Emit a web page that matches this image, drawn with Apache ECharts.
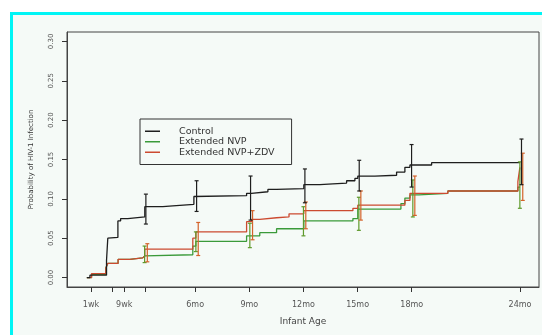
<!DOCTYPE html>
<html>
<head>
<meta charset="utf-8">
<title>Probability of HIV-1 Infection</title>
<script src="https://cdn.jsdelivr.net/npm/echarts@6/dist/echarts.min.js"></script>
<style>
  html, body { margin: 0; padding: 0; background: #ffffff; overflow: hidden; }
  #frame { position: absolute; left: 10px; top: 12px; width: 560px; height: 360px;
           border-left: 3px solid #00f5f5; border-top: 3px solid #00f5f5; background: #f5faf7; }
  #main { position: absolute; left: 0; top: 0; width: 542px; height: 335px; }
</style>
</head>
<body>
<div id="frame"></div>
<div id="main"></div>
<script>
// x in months
var tickMonths = [0.23, 1.38, 2.07, 3.22, 6, 9, 12, 15, 18, 24];
var tickLabels = ['1wk', '', '9wk', '', '6mo', '9mo', '12mo', '15mo', '18mo', '24mo'];
var yTicks = [0, 0.05, 0.10, 0.15, 0.20, 0.25, 0.30];

// step curves [month, probability]
var control = [[0, 0], [0.17, 0.003], [1.09, 0.022], [1.16, 0.050], [1.27, 0.051], [1.72, 0.072],
  [1.87, 0.075], [2.27, 0.077], [3.21, 0.090], [4.21, 0.091], [4.76, 0.093], [5.93, 0.103],
  [6.04, 0.104], [8.85, 0.107], [9.12, 0.109], [10.03, 0.112], [10.51, 0.113], [12.02, 0.118],
  [12.91, 0.119], [13.63, 0.120], [14.39, 0.123], [14.85, 0.126], [15.01, 0.129], [15.96, 0.130],
  [17.16, 0.134], [17.62, 0.140], [17.9, 0.143], [19.1, 0.146], [24.0, 0.146]];
var nvp = [[0, 0], [0.26, 0.004], [1.05, 0.012], [1.16, 0.018], [1.73, 0.023], [2.38, 0.025],
  [3.09, 0.0275], [3.21, 0.029], [5.87, 0.040], [6.04, 0.046], [8.85, 0.053], [9.58, 0.057],
  [10.51, 0.062], [12.02, 0.072], [14.74, 0.075], [15.01, 0.087], [17.4, 0.094], [17.62, 0.101],
  [17.9, 0.105], [18.4, 0.107], [20.0, 0.110], [23.88, 0.115], [24.0, 0.115]];
var zdv = [[0, 0], [0.26, 0.005], [1.05, 0.012], [1.16, 0.018], [1.73, 0.023], [2.38, 0.025],
  [3.09, 0.0275], [3.21, 0.036], [5.87, 0.050], [6.04, 0.058], [8.85, 0.071], [9.12, 0.074],
  [9.58, 0.076], [10.51, 0.077], [11.2, 0.081], [12.02, 0.085], [14.74, 0.088], [15.01, 0.092],
  [17.62, 0.098], [17.9, 0.107], [20.0, 0.110], [23.88, 0.122], [23.99, 0.140], [24.0, 0.140]];

// confidence bars [month, low, high]
var controlCI = [[3.27, 0.068, 0.106], [6.08, 0.084, 0.123], [9.07, 0.073, 0.129], [12.08, 0.095, 0.138],
  [15.09, 0.110, 0.149], [17.99, 0.115, 0.169], [24.08, 0.118, 0.176]];
var nvpCI = [[3.2, 0.019, 0.040], [6.04, 0.033, 0.058], [9.03, 0.038, 0.069], [12.0, 0.053, 0.090],
  [15.07, 0.060, 0.102], [18.06, 0.077, 0.124], [23.99, 0.088, 0.147]];
var zdvCI = [[3.35, 0.020, 0.043], [6.17, 0.028, 0.070], [9.18, 0.048, 0.085], [12.13, 0.062, 0.096],
  [15.18, 0.073, 0.110], [18.17, 0.079, 0.129], [24.15, 0.098, 0.158]];

var cBlack = '#1e1e1e', cGreen = '#3a9a3a', cRed = '#cc4a30';
var font = 'DejaVu Sans';

function stepSeries(name, data, color, z) {
  return { name: name, type: 'line', step: 'end', data: data, symbol: 'none', z: z,
    lineStyle: { color: color, width: 1.3 }, itemStyle: { color: color }, animation: false };
}
function ciSeries(name, data, color, z) {
  return {
    name: name, type: 'custom', data: data, z: z, animation: false,
    encode: { x: 0, y: [1, 2] },
    renderItem: function (params, api) {
      var x = api.value(0);
      var lo = api.coord([x, api.value(1)]);
      var hi = api.coord([x, api.value(2)]);
      var st = { stroke: color, lineWidth: 1.2 };
      return { type: 'group', children: [
        { type: 'line', shape: { x1: lo[0], y1: lo[1], x2: hi[0], y2: hi[1] }, style: st },
        { type: 'line', shape: { x1: lo[0] - 2, y1: lo[1], x2: lo[0] + 2, y2: lo[1] }, style: st },
        { type: 'line', shape: { x1: hi[0] - 2, y1: hi[1], x2: hi[0] + 2, y2: hi[1] }, style: st }
      ] };
    }
  };
}

var chart = echarts.init(document.getElementById('main'), null, { renderer: 'canvas' });
chart.setOption({
  backgroundColor: 'transparent',
  animation: false,
  grid: { left: 67, top: 32, right: 3, bottom: 48, show: true, borderColor: '#444', borderWidth: 1 },
  legend: {
    data: ['Control', 'Extended NVP', 'Extended NVP+ZDV'],
    orient: 'vertical', left: 140, top: 119,
    padding: [7, 17, 7, 5], itemGap: 0,
    borderColor: '#333', borderWidth: 1, backgroundColor: '#f5faf7',
    icon: 'rect', itemWidth: 15, itemHeight: 1.5,
    formatter: function (n) { return '{a|' + n + '}'; },
    textStyle: { fontFamily: font, fontSize: 9.5, color: '#333', lineHeight: 10.5,
      rich: { a: { fontFamily: font, fontSize: 9.5, color: '#333', lineHeight: 10.5, padding: [0, 0, 0, 14] } } }
  },
  xAxis: {
    type: 'value', min: -1.1, max: 25.05,
    name: 'Infant Age', nameLocation: 'middle', nameGap: 30,
    nameTextStyle: { fontFamily: font, fontSize: 9, color: '#444' },
    axisLine: { show: true, onZero: false, lineStyle: { color: '#444' } },
    axisTick: { show: true, length: 5, lineStyle: { color: '#333' }, customValues: tickMonths },
    axisLabel: {
      fontFamily: font, fontSize: 8, color: '#555', margin: 14,
      customValues: tickMonths.filter(function (v, i) { return tickLabels[i] !== ''; }),
      formatter: function (v) {
        for (var i = 0; i < tickMonths.length; i++) {
          if (Math.abs(tickMonths[i] - v) < 1e-6) return tickLabels[i];
        }
        return '';
      }
    },
    splitLine: { show: false }
  },
  yAxis: {
    type: 'value', min: -0.012, max: 0.312,
    name: 'Probability of HIV-1 Infection', nameLocation: 'middle', nameGap: 32, nameRotate: 90,
    nameTextStyle: { fontFamily: font, fontSize: 7, color: '#333' },
    axisLine: { show: true, onZero: false, lineStyle: { color: '#444' } },
    axisTick: { show: true, length: 5, lineStyle: { color: '#333' }, customValues: yTicks },
    axisLabel: { fontFamily: font, fontSize: 7, color: '#555', rotate: 90, margin: 12,
      customValues: yTicks, formatter: function (v) { return v.toFixed(2); } },
    splitLine: { show: false }
  },
  series: [
    stepSeries('Extended NVP', nvp, cGreen, 2),
    stepSeries('Extended NVP+ZDV', zdv, cRed, 3),
    stepSeries('Control', control, cBlack, 4),
    ciSeries('nvp-ci', nvpCI, '#5f9a2c', 5),
    ciSeries('zdv-ci', zdvCI, '#d4622a', 6),
    ciSeries('control-ci', controlCI, cBlack, 7)
  ]
});
</script>
</body>
</html>
